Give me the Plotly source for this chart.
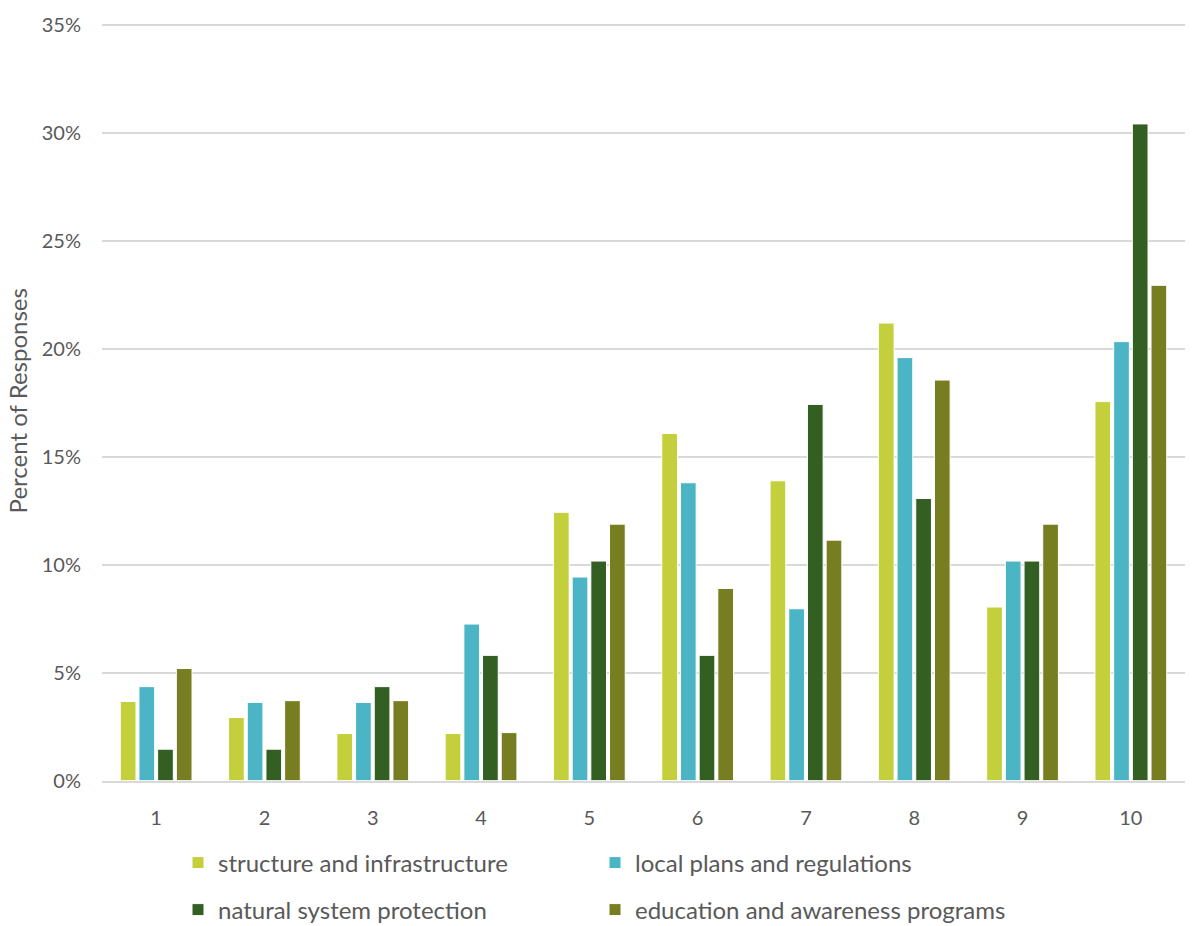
import plotly.graph_objects as go

categories = ["1", "2", "3", "4", "5", "6", "7", "8", "9", "10"]
structure = [3.66, 2.92, 2.18, 2.18, 12.43, 16.08, 13.89, 21.2, 8.04, 17.56]
local_plans = [4.35, 3.62, 3.62, 7.25, 9.43, 13.8, 7.96, 19.6, 10.17, 20.34]
natural = [1.45, 1.45, 4.35, 5.8, 10.17, 5.8, 17.43, 13.07, 10.17, 30.43]
education = [5.19, 3.70, 3.70, 2.22, 11.88, 8.9, 11.14, 18.56, 11.88, 22.95]

series = [
    ("structure and infrastructure", structure, "#c3cf3b", "legend"),
    ("local plans and regulations", local_plans, "#4bb5c5", "legend"),
    ("natural system protection", natural, "#335f23", "legend2"),
    ("education and awareness programs", education, "#777e21", "legend2"),
]

FONT = "Gill Sans, Lato, sans-serif"
GRAY = "#595959"

fig = go.Figure()
for name, vals, color, lg in series:
    fig.add_trace(go.Bar(
        x=categories, y=[v / 100 for v in vals], name=name,
        marker=dict(color=color, line=dict(color="white", width=1)),
        legend=lg,
    ))

legend_common = dict(
    orientation="h", xanchor="left", yanchor="middle",
    xref="container", yref="container",
    font=dict(family=FONT, size=24, color=GRAY),
    entrywidth=372, bgcolor="rgba(0,0,0,0)",
    itemclick=False,
)

fig.update_layout(
    width=1197, height=926,
    margin=dict(l=102, r=12, t=17, b=145),
    paper_bgcolor="white", plot_bgcolor="white",
    barmode="group", bargap=0.31, bargroupgap=0.16,
    font=dict(family=FONT, color=GRAY),
    legend=dict(x=178 / 1197, y=1 - 863 / 926, **legend_common),
    legend2=dict(x=178 / 1197, y=1 - 910 / 926, **legend_common),
    xaxis=dict(
        type="category", showgrid=False, ticks="",
        showline=True, linecolor="#d9d9d9", linewidth=2,
        ticklabelstandoff=18,
        tickfont=dict(family=FONT, size=20, color=GRAY),
    ),
    yaxis=dict(
        range=[0, 0.352], tick0=0, dtick=0.05, tickformat=".0%",
        showgrid=True, gridcolor="#d9d9d9", gridwidth=2,
        zeroline=False, ticks="", ticklabelstandoff=20,
        tickfont=dict(family=FONT, size=20, color=GRAY),
        title=dict(text="Percent of Responses", standoff=7,
                   font=dict(family=FONT, size=24, color=GRAY)),
    ),
)

fig.write_html("out.html")
